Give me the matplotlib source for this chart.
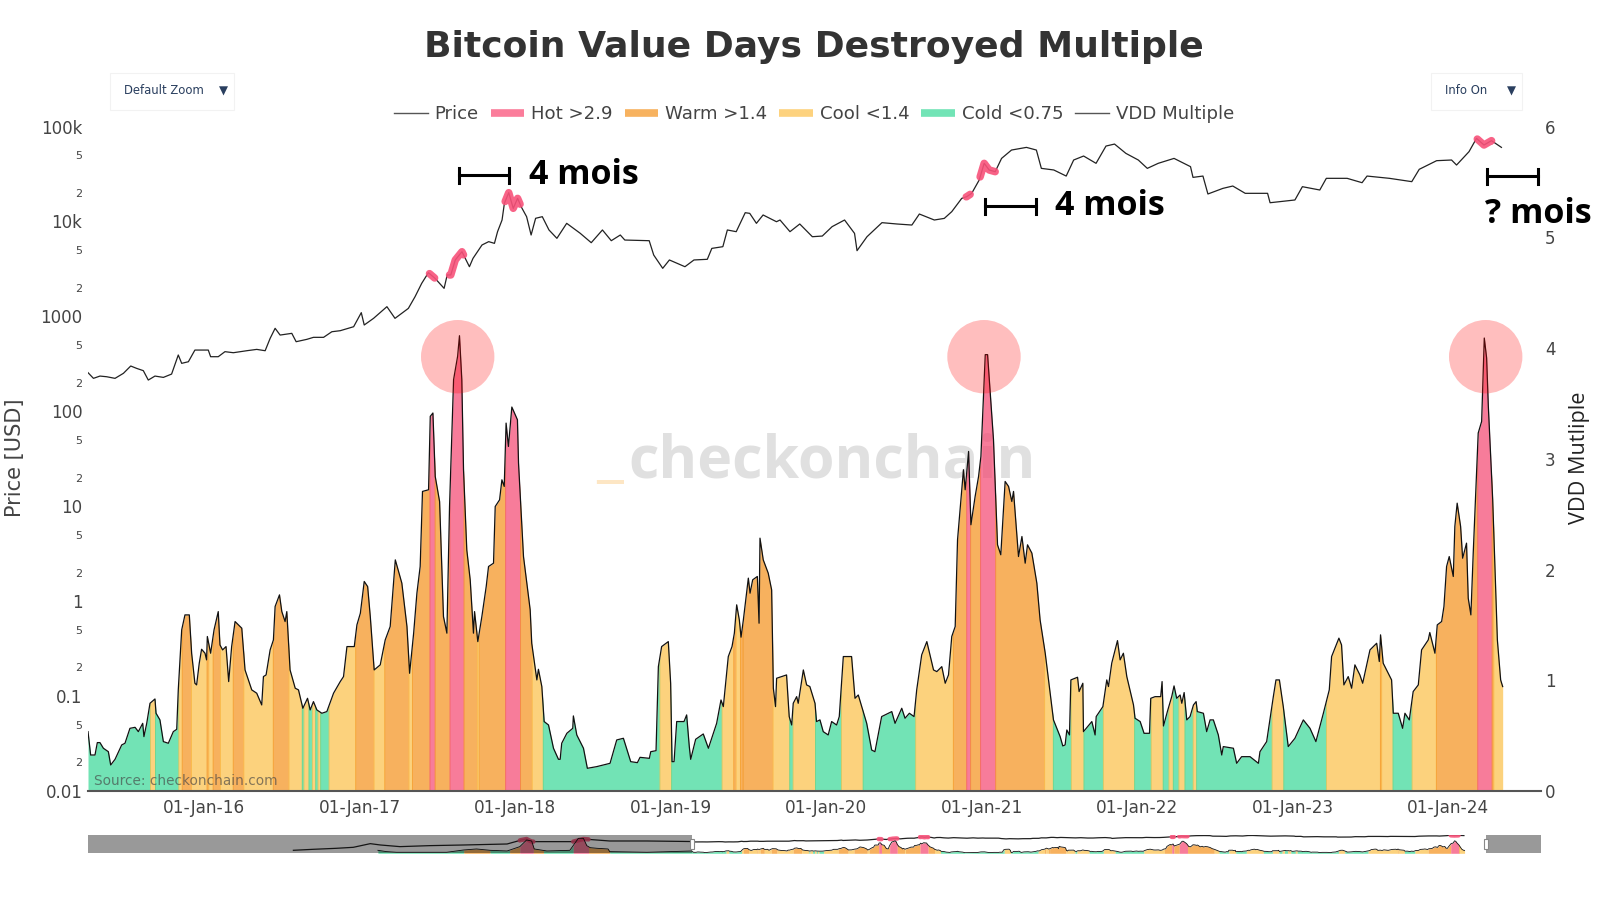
import numpy as np
import matplotlib
matplotlib.use("Agg")
import matplotlib.pyplot as plt
import matplotlib.dates as mdates
from matplotlib.lines import Line2D
from matplotlib.patches import Circle, Rectangle
from matplotlib.transforms import Affine2D
from datetime import datetime

# ---------------- data (decimal years) ----------------
vdd_years = [2015.253,2015.270,2015.298,2015.313,2015.330,2015.352,2015.384,2015.399,2015.427,2015.470,2015.491,2015.523,2015.556,2015.577,2015.605,2015.613,2015.631,2015.652,2015.684,2015.691,2015.716,2015.738,2015.770,2015.802,2015.824,2015.834,2015.856,2015.877,2015.905,2015.920,2015.941,2015.952,2015.969,2015.984,2016.006,2016.016,2016.021,2016.042,2016.064,2016.091,2016.102,2016.119,2016.141,2016.158,2016.177,2016.199,2016.242,2016.263,2016.306,2016.338,2016.370,2016.381,2016.398,2016.424,2016.445,2016.456,2016.484,2016.499,2016.520,2016.531,2016.552,2016.585,2016.606,2016.634,2016.664,2016.681,2016.702,2016.724,2016.756,2016.788,2016.831,2016.874,2016.895,2016.917,2016.964,2016.981,2017.003,2017.028,2017.050,2017.067,2017.092,2017.131,2017.163,2017.195,2017.228,2017.270,2017.303,2017.320,2017.346,2017.367,2017.388,2017.403,2017.442,2017.453,2017.470,2017.485,2017.513,2017.538,2017.560,2017.577,2017.603,2017.629,2017.641,2017.656,2017.667,2017.688,2017.710,2017.731,2017.738,2017.759,2017.785,2017.813,2017.828,2017.860,2017.871,2017.899,2017.914,2017.929,2017.941,2017.956,2017.978,2018.014,2018.021,2018.053,2018.096,2018.106,2018.139,2018.149,2018.171,2018.186,2018.214,2018.246,2018.278,
 2018.289,2018.299,2018.332,2018.370,2018.374,2018.396,2018.439,2018.464,2018.524,2018.610,2018.653,2018.696,2018.743,2018.786,2018.803,2018.863,2018.872,2018.906,2018.921,2018.942,2018.985,2019.000,2019.009,2019.022,2019.039,2019.086,2019.103,2019.120,2019.129,2019.161,2019.210,2019.243,2019.296,2019.324,2019.339,2019.371,2019.395,2019.410,2019.425,2019.442,2019.453,2019.468,2019.500,2019.511,2019.528,2019.558,2019.569,2019.575,2019.596,2019.628,2019.650,2019.661,2019.675,2019.682,2019.746,2019.763,2019.779,2019.789,2019.811,2019.821,2019.854,2019.875,2019.896,2019.929,2019.939,2019.961,2019.982,2020.014,2020.036,2020.068,2020.085,2020.111,2020.164,2020.186,2020.207,2020.261,2020.293,2020.314,2020.357,2020.422,2020.443,2020.486,2020.507,2020.535,2020.565,2020.582,2020.614,2020.647,2020.690,2020.711,2020.743,2020.765,2020.786,2020.807,2020.829,2020.844,2020.882,2020.893,2020.915,2020.930,2020.957,2020.979,2020.994,2021.022,2021.037,2021.075,2021.101,2021.122,2021.150,2021.172,2021.193,2021.204,2021.236,2021.258,2021.279,2021.294,2021.322,2021.354,2021.375,
 2021.408,2021.461,2021.504,2021.521,2021.536,2021.547,2021.564,2021.573,2021.616,2021.626,2021.650,2021.654,2021.708,2021.729,2021.736,2021.779,2021.804,2021.815,2021.836,2021.873,2021.890,2021.911,2021.933,2021.976,2021.986,2022.019,2022.044,2022.079,2022.087,2022.115,2022.151,2022.160,2022.169,2022.194,2022.222,2022.237,2022.254,2022.276,2022.287,2022.302,2022.319,2022.340,2022.362,2022.379,2022.387,2022.426,2022.447,2022.469,2022.490,2022.522,2022.544,2022.554,2022.619,2022.640,2022.672,2022.726,2022.780,2022.790,2022.833,2022.876,2022.893,2022.915,2022.940,2022.972,2023.015,2023.069,2023.112,2023.150,2023.198,2023.236,2023.251,2023.298,2023.315,2023.330,2023.358,2023.380,2023.401,2023.433,2023.451,2023.498,2023.541,2023.558,2023.566,2023.583,2023.637,2023.648,2023.680,2023.708,2023.723,2023.751,2023.776,2023.809,2023.830,2023.873,2023.883,2023.916,2023.931,2023.959,2023.974,2023.991,2024.008,2024.034,2024.044,2024.059,2024.081,2024.094,2024.119,2024.130,2024.147,2024.162,2024.194,2024.216,2024.233,2024.248,2024.259,2024.287,2024.317,2024.338,2024.351]
vdd_values = [0.536,0.325,0.325,0.437,0.437,0.386,0.355,0.235,0.286,0.416,0.431,0.566,0.575,0.536,0.611,0.491,0.611,0.792,0.831,0.702,0.642,0.446,0.431,0.536,0.557,0.913,1.455,1.590,1.590,1.244,0.973,0.958,1.154,1.280,1.244,1.184,1.395,1.244,1.455,1.620,1.319,1.274,1.304,0.988,1.304,1.530,1.470,1.093,0.913,0.883,0.777,1.033,1.048,1.274,1.364,1.666,1.771,1.620,1.530,1.620,1.093,0.928,0.913,0.747,0.837,0.732,0.807,0.732,0.702,0.717,0.883,0.988,1.033,1.304,1.304,1.500,1.605,1.892,1.846,1.575,1.093,1.139,1.364,1.485,2.087,1.877,1.485,1.063,1.425,1.786,2.027,2.705,2.720,3.383,3.413,2.840,2.614,1.575,1.425,2.569,3.714,3.925,4.111,3.714,2.901,2.178,1.907,1.425,1.620,1.349,1.575,1.846,2.027,2.057,2.569,2.629,2.810,2.750,3.322,3.111,3.467,3.352,2.961,2.117,1.636,1.334,1.003,1.099,0.943,0.627,0.596,0.386,0.286,
 0.286,0.431,0.521,0.566,0.678,0.506,0.386,0.205,0.220,0.250,0.461,0.476,0.265,0.256,0.304,0.295,0.355,0.364,1.123,1.304,1.349,0.973,0.265,0.265,0.627,0.627,0.687,0.401,0.286,0.467,0.515,0.386,0.611,0.822,0.762,1.214,1.304,1.425,1.681,1.545,1.389,1.545,1.922,1.786,1.907,1.937,1.515,2.283,2.087,1.967,1.816,0.928,0.762,1.018,1.048,0.672,0.596,0.792,0.852,0.792,1.093,0.958,0.943,0.792,0.627,0.642,0.536,0.506,0.627,0.596,0.672,1.214,1.214,0.837,0.867,0.611,0.370,0.355,0.672,0.717,0.611,0.747,0.657,0.702,0.672,0.913,1.229,1.349,1.093,1.078,1.123,0.973,1.048,1.395,1.485,2.268,2.901,2.720,3.066,2.404,2.660,2.840,3.021,3.940,3.940,3.172,2.223,2.133,2.795,2.750,2.614,2.705,2.117,2.298,2.057,2.223,2.148,1.877,1.545,
 1.244,0.642,0.491,0.407,0.416,0.551,0.506,1.003,1.027,0.898,0.973,0.536,0.627,0.506,0.672,0.762,1.003,0.943,1.154,1.358,1.184,1.244,1.033,0.777,0.657,0.627,0.521,0.521,0.837,0.852,0.852,0.988,0.587,0.717,0.852,0.949,0.837,0.867,0.792,0.889,0.642,0.672,0.777,0.807,0.717,0.702,0.536,0.642,0.642,0.506,0.325,0.401,0.386,0.250,0.310,0.310,0.250,0.355,0.446,0.852,1.003,1.003,0.762,0.401,0.476,0.642,0.566,0.446,0.702,0.913,1.214,1.380,1.319,0.958,1.033,0.928,1.139,1.048,0.973,1.274,1.334,1.169,1.410,1.154,1.003,0.702,0.702,0.566,0.702,0.642,0.898,0.958,1.274,1.364,1.431,1.244,1.500,1.530,1.666,2.027,2.117,1.937,2.389,2.599,2.389,2.102,2.238,1.741,1.590,2.148,3.232,3.337,4.090,3.910,3.473,2.630,1.364,1.003,0.943]

price_years = [2015.253,2015.288,2015.330,2015.373,2015.427,2015.481,2015.528,2015.566,2015.609,2015.641,2015.684,2015.738,2015.791,2015.834,2015.856,2015.899,2015.941,2016.027,2016.042,2016.091,2016.134,2016.188,2016.274,2016.338,2016.392,2016.424,2016.456,2016.488,2016.563,2016.591,2016.660,2016.702,2016.767,2016.820,2016.874,2016.960,2016.981,2017.009,2017.028,2017.088,2017.174,
 2017.226,2017.312,2017.355,2017.398,2017.441,2017.484,2017.542,2017.562,2017.585,2017.614,2017.657,2017.705,2017.728,2017.786,2017.829,2017.866,2017.886,2017.915,2017.930,2017.958,2017.987,2018.015,2018.038,2018.073,2018.102,2018.131,2018.174,2018.217,2018.268,2018.331,2018.418,2018.489,2018.561,2018.618,2018.676,2018.705,2018.862,2018.891,2018.920,2018.949,2018.992,2019.092,2019.150,2019.236,2019.265,2019.336,2019.365,2019.422,2019.480,2019.509,2019.552,2019.595,2019.681,
 2019.704,2019.768,2019.831,2019.912,2019.976,2020.039,2020.119,2020.183,2020.199,2020.263,2020.359,2020.455,2020.551,2020.599,2020.695,2020.759,2020.807,2020.871,2020.903,2020.935,2020.983,2021.015,2021.047,2021.086,2021.127,2021.191,2021.287,2021.351,2021.383,2021.463,2021.543,2021.591,2021.655,2021.735,2021.799,2021.854,2021.927,2022.007,2022.065,2022.135,2022.237,2022.343,2022.359,2022.423,2022.455,2022.551,2022.615,2022.695,2022.839,2022.855,2023.015,2023.063,2023.175,2023.217,2023.351,2023.447,2023.479,2023.623,2023.767,2023.815,2023.927,2024.023,2024.055,2024.135,2024.183,2024.231,2024.279,2024.343]
price_log10 = [2.407,2.347,2.371,2.364,2.347,2.400,2.477,2.452,2.428,2.329,2.371,2.357,2.392,2.593,2.505,2.522,2.645,2.645,2.575,2.575,2.628,2.617,2.638,2.652,2.638,2.768,2.874,2.803,2.821,2.733,2.758,2.779,2.779,2.838,2.849,2.891,2.954,3.039,2.909,2.979,3.102,
 2.979,3.084,3.207,3.348,3.460,3.400,3.295,3.436,3.436,3.594,3.681,3.523,3.611,3.752,3.787,3.769,3.892,4.015,4.190,4.303,4.138,4.243,4.155,4.050,3.857,4.033,4.050,3.910,3.822,3.980,3.875,3.776,3.910,3.797,3.857,3.804,3.797,3.646,3.576,3.506,3.594,3.523,3.594,3.601,3.716,3.734,3.910,3.892,4.092,4.085,3.980,4.068,3.997,
 4.015,3.892,3.973,3.839,3.846,3.945,4.015,3.874,3.692,3.839,3.987,3.973,3.962,4.078,4.015,4.032,4.103,4.243,4.261,4.296,4.436,4.612,4.542,4.524,4.664,4.752,4.780,4.752,4.559,4.542,4.478,4.647,4.689,4.612,4.794,4.815,4.717,4.647,4.559,4.612,4.664,4.577,4.464,4.478,4.289,4.348,4.373,4.296,4.296,4.197,4.226,4.366,4.331,4.454,4.454,4.408,4.478,4.454,4.419,4.549,4.640,4.647,4.594,4.735,4.875,4.805,4.851,4.780]

# Regime bands: each one runs from its start to the next start
band_starts = [2015.253,2015.652,2015.684,2015.834,2015.856,2015.916,2016.016,2016.027,2016.055,2016.102,2016.184,2016.252,2016.441,2016.542,2016.627,2016.638,2016.670,2016.692,2016.713,2016.728,2016.745,2016.799,2016.970,2017.088,2017.157,2017.313,2017.335,2017.448,2017.481,2017.577,2017.667,2017.753,2017.764,2017.935,2018.031,2018.106,2018.177,
 2018.928,2019.003,2019.328,2019.403,2019.418,2019.446,2019.463,2019.656,2019.763,2019.785,2019.929,2020.096,2020.235,2020.572,2020.814,2020.900,2020.925,2020.989,2021.086,2021.401,2021.457,2021.573,2021.654,2021.779,2021.980,2022.087,2022.164,2022.201,2022.229,2022.265,2022.304,2022.357,2022.379,2022.865,2022.940,2023.215,2023.562,2023.570,2023.643,2023.766,2023.922,2024.188,2024.280,2024.291]
band_kinds = ["cold","cool","cold","cool","warm","cool","warm","cool","warm","cool","warm","cool","warm","cool","cold","cool","cold","cool","cold","cool","cold","cool","warm","cool","warm","cool","warm","hot","warm","hot","warm","cool","warm","hot","warm","cool","cold",
 "cool","cold","cool","warm","cool","warm","warm","cool","cold","cool","cold","cool","cold","cool","warm","hot","warm","hot","warm","cool","cold","cool","cold","cool","cold","cool","cold","cool","cold","cool","cold","cool","cold","cool","cold","cool","warm","cool","cold","cool","warm","hot","warm","cool"]
data_end = 2024.351

# Earlier history that only the range slider shows
early_price_years = [2010.554,2010.79,2011.06,2011.26,2011.46,2011.58,2011.81,2012.16,2012.56,2013.07,2013.24,2013.30,2013.36,2013.85,2013.97,2014.28,2014.72,2015.25]
early_price_log10 = [-0.85,-0.47,-0.09,0.29,1.69,1.18,0.55,0.93,1.18,1.56,3.09,3.47,2.46,2.46,3.47,2.71,2.71,2.50]
early_vdd_years = [2011.55,2011.65,2011.77,2012.36,2012.56,2012.71,2012.87,2013.07,2013.22,2013.30,2013.36,2013.39,2013.54,2013.81,2013.91,2013.97,2014.01,2014.05,2014.13,2014.26,2014.28,2014.72,2015.25]
early_vdd_values = [0.98,0.55,0.33,0.33,1.09,1.42,0.98,0.76,2.18,4.36,4.03,1.42,0.76,0.98,4.9,4.9,2.5,1.85,1.64,1.42,0.55,0.33,0.76]
early_band_starts = [2011.55,2012.56,2012.87,2013.10,2013.22,2013.38,2013.50,2013.85,2014.03,2014.28]
early_band_kinds = ["cold","warm","cold","warm","hot","warm","cold","hot","warm","cold"]

x_tick_years = [2016,2017,2018,2019,2020,2021,2022,2023,2024]
price_ticks = [1e5,5e4,2e4,1e4,5e3,2e3,1e3,500,200,100,50,20,10,5,2,1,.5,.2,.1,.05,.02,.01]
price_tick_labels = ["100k","5","2","10k","5","2","1000","5","2","100","5","2","10","5","2","1","5","2","0.1","5","2","0.01"]
vdd_ticks = [0,1,2,3,4,5,6]

COL = {"hot":(245/255,69/255,112/255),"warm":(244/255,145/255,26/255),
       "cool":(252/255,191/255,70/255),"cold":(54/255,216/255,150/255)}
SOLID = {"hot":"#fb7d9b","warm":"#f7b25f","cool":"#fdd27e","cold":"#72e4b6"}
HOT_LINE = "#f8527a"
TXT = "#444444"

def to_date(y):
    y = np.atleast_1d(np.asarray(y, dtype=float))
    out = []
    for v in y:
        yr = int(np.floor(v))
        a = mdates.date2num(datetime(yr,1,1)); b = mdates.date2num(datetime(yr+1,1,1))
        out.append(a + (v-yr)*(b-a))
    return np.array(out)

fig = plt.figure(figsize=(16,9), dpi=100, facecolor="white")
px = Affine2D().scale(1/1600,-1/900).translate(0,1) + fig.transFigure
L,R,T,B = 88,1541,126.5,791
rect = [L/1600, 1-B/900, (R-L)/1600, (B-T)/900]
ax_p = fig.add_axes(rect)
ax_v = ax_p.twinx()

def draw_series(a_v, a_p, vy, vv, py, pl, starts, kinds, end, lw_v, lw_p, hot_lw, eps):
    edges = list(starts)+[end]
    vy = np.asarray(vy); vv = np.asarray(vv); py = np.asarray(py); pl = np.asarray(pl)
    for i,k in enumerate(kinds):
        lo,hi = edges[i],edges[i+1]
        lo2,hi2 = max(lo-eps,vy[0]),min(hi+eps,vy[-1])
        m = (vy>lo2)&(vy<hi2)
        xs = np.r_[lo2,vy[m],hi2]
        a_v.fill_between(to_date(xs),0,np.interp(xs,vy,vv),color=COL[k],alpha=.7,lw=0,zorder=2)
        if k=="hot":
            m = (py>lo)&(py<hi)
            xs = np.r_[lo,py[m],hi]
            a_p.plot(to_date(xs),10**np.interp(xs,py,pl),color=HOT_LINE,lw=hot_lw,
                     solid_capstyle="round",solid_joinstyle="round",alpha=.9,zorder=4)
    a_v.plot(to_date(vy),vv,color="#111111",lw=lw_v,zorder=3)
    a_p.plot(to_date(py),10**pl,color="#222222",lw=lw_p,zorder=3)

# watermark sits under the fills
ax_p.text(596,474,"_",transform=px,fontsize=47,family="Open Sans",fontweight="bold",color="#fde6c4",zorder=1,va="baseline")
ax_p.text(628,478,"checkonchain",transform=px,fontsize=42.6,family="Open Sans",fontweight="bold",color="#e0e0e0",zorder=1,va="baseline")

draw_series(ax_v,ax_p,vdd_years,vdd_values,price_years,price_log10,band_starts,band_kinds,data_end,0.9,0.9,5.4,0.003)

for a in (ax_p,ax_v):
    a.set_xlim(to_date(2015.253)[0],to_date(2024.597)[0])
    for s in a.spines.values(): s.set_visible(False)
ax_p.set_yscale("log"); ax_p.set_ylim(.01,1e5)
ax_p.minorticks_off()
ax_v.set_ylim(0,6)
ax_p.set_yticks(price_ticks); ax_p.set_yticklabels(price_tick_labels)
ax_p.tick_params(axis="y",length=0,pad=4,colors=TXT)
for t,s in zip(ax_p.get_yticklabels(),price_tick_labels):
    t.set_fontsize(8 if s in("5","2") else 12)
ax_p.set_xticks(to_date(x_tick_years))
ax_p.xaxis.set_major_formatter(mdates.DateFormatter("%d-%b-%y"))
ax_p.tick_params(axis="x",length=0,pad=6,colors=TXT,labelsize=12.2)
ax_v.set_yticks(vdd_ticks)
ax_v.tick_params(axis="y",length=0,pad=3,colors=TXT,labelsize=12)
ax_v.spines["bottom"].set_visible(True); ax_v.spines["bottom"].set_color("#555555"); ax_v.spines["bottom"].set_linewidth(1.5)
ax_v.spines["bottom"].set_zorder(5)

fig.text(15,458,"Price [USD]",transform=px,rotation=90,ha="center",va="center",fontsize=15,color=TXT)
fig.text(1579,458,"VDD Mutliple",transform=px,rotation=90,ha="center",va="center",fontsize=15.6,color="#222222",family="Open Sans")
fig.text(814,47,"Bitcoin Value Days Destroyed Multiple",transform=px,ha="center",va="center",fontsize=26,fontweight="bold",color="#333333")
fig.text(94,781,"Source: checkonchain.com",transform=px,ha="left",va="center",fontsize=9.8,color="#444444",alpha=.65,zorder=6)

# legend
handles = [Line2D([],[],color="#555555",lw=1),Line2D([],[],color=SOLID["hot"],lw=5.5,solid_capstyle="butt"),
           Line2D([],[],color=SOLID["warm"],lw=5.5,solid_capstyle="butt"),Line2D([],[],color=SOLID["cool"],lw=5.5,solid_capstyle="butt"),
           Line2D([],[],color=SOLID["cold"],lw=5.5,solid_capstyle="butt"),Line2D([],[],color="#555555",lw=1)]
labels = ["Price","Hot >2.9","Warm >1.4","Cool <1.4","Cold <0.75","VDD Multiple"]
fig.legend(handles,labels,ncol=6,frameon=False,loc="center",bbox_to_anchor=(814/1600,1-114/900),fontsize=13.1,
           handlelength=1.85,handletextpad=.38,columnspacing=.65,labelcolor=TXT,borderpad=0)

# dropdown buttons
for x0,x1,lab,tx,ax_ in [(110,234,"Default Zoom",123.5,223.5),(1431,1522,"Info On",1445,1511)]:
    fig.add_artist(Rectangle((x0,73),x1-x0,37,transform=px,fc="white",ec="#f2f2f2",lw=.8))
    fig.text(tx,91,lab,transform=px,ha="left",va="center",fontsize=8.4,color="#2a3f5f")
    fig.text(ax_,91,"\u25BC",transform=px,ha="center",va="center",fontsize=8.5,color="#2a3f5f")

# pink circles
for cx in (457.7,984,1485.7):
    fig.add_artist(Circle((cx,356.7),36.7,transform=px,fc=(1,0,0,.255),ec="none",zorder=6))

# annotations
for x0,x1,y in [(459,509,175),(985,1036,206),(1487,1538,176)]:
    fig.add_artist(Line2D([x0,x1],[y,y],transform=px,color="black",lw=2.2,zorder=6))
    for xx in (x0,x1):
        fig.add_artist(Line2D([xx,xx],[y-7.5,y+7.5],transform=px,color="black",lw=2.2,zorder=6))
for x,y,s in [(529,175,"4 mois"),(1055,206,"4 mois"),(1485,214,"? mois")]:
    fig.text(x,y,s,transform=px,ha="left",va="center",fontsize=24.5,fontweight="bold",family="Open Sans",color="black",zorder=6)

# range slider
SL,SR,ST,SB = 88,1541,835,853.3
srect = [SL/1600,1-SB/900,(SR-SL)/1600,(SB-ST)/900]
s_p = fig.add_axes(srect); s_v = s_p.twinx()
draw_series(s_v,s_p,list(early_vdd_years)+vdd_years,list(early_vdd_values)+vdd_values,
            list(early_price_years)+price_years,list(early_price_log10)+price_log10,
            list(early_band_starts)+band_starts,list(early_band_kinds)+band_kinds,data_end,.6,.9,3.2,0)
for a in (s_p,s_v):
    a.set_xlim(to_date(2008.135)[0],to_date(2025.25)[0])
    a.set_xticks([]); a.set_yticks([])
    for s in a.spines.values(): s.set_visible(False)
s_p.set_yscale("log"); s_p.set_ylim(.01,1e5); s_p.minorticks_off(); s_p.set_yticks([]); s_v.set_ylim(0,6)
s_v.axvspan(to_date(2008.135)[0],to_date(2015.253)[0],color="black",alpha=.4,lw=0,zorder=8)
s_v.axvspan(to_date(2024.597)[0],to_date(2025.25)[0],color="black",alpha=.4,lw=0,zorder=8)
for hx in (692.3,1485.7):
    fig.add_artist(Rectangle((hx-2,839),4,10,transform=px,fc="white",ec="#888888",lw=.8,zorder=7))

fig.savefig("out.png",dpi=100)
